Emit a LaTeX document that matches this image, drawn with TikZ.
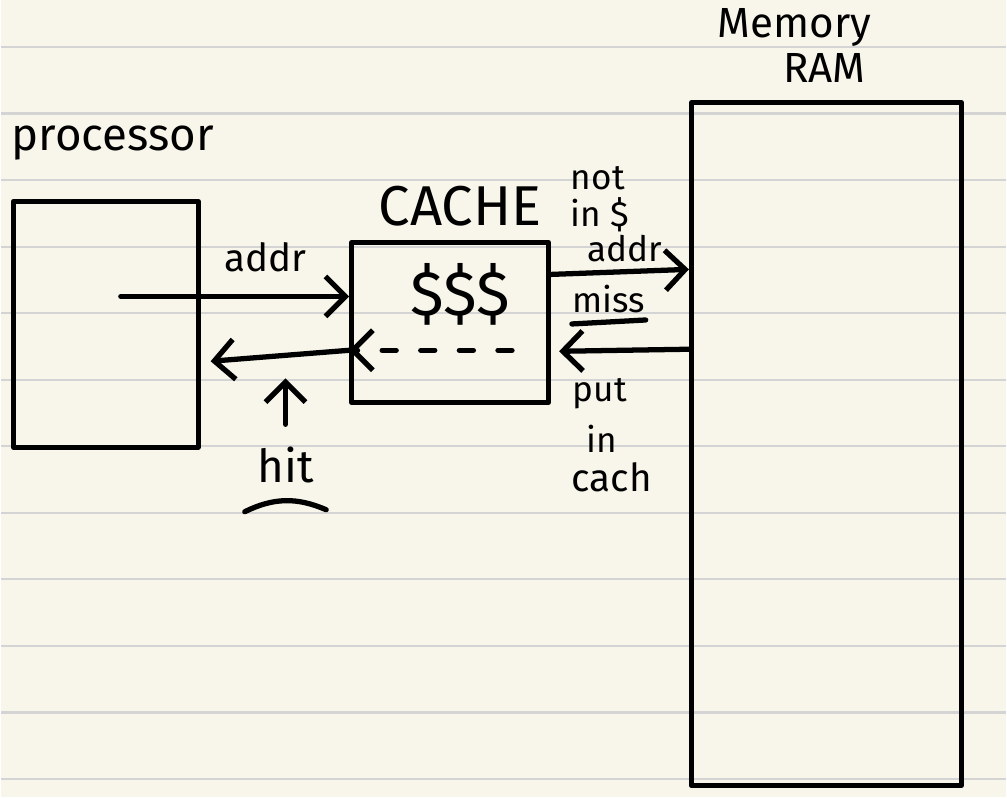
\documentclass[tikz,border=0pt]{standalone}
\usepackage{fontspec}
\setmainfont{Fira Sans}
\usepackage{tikz}
\usetikzlibrary{arrows.meta}
\definecolor{paper}{HTML}{F8F6EA}
\definecolor{ruling}{HTML}{D4D4D4}
\tikzset{
    ink/.style = {line width = 1.5pt, line cap = round, line join = round},
    arr/.style = {ink, -{Straight Barb[length = 2mm, width = 4mm]}},
    box/.style = {ink, draw, rectangle, inner sep = 0pt},
    note/.style = {font = \fontsize{13}{13}\selectfont, inner sep = 0pt},
    small/.style = {font = \fontsize{10}{10}\selectfont, inner sep = 0pt}
}
\begin{document}
\begin{tikzpicture}[x = 0.01cm, y = -0.01cm]
    \fill [paper] (0, 0) rectangle (1007, 799);
    \foreach \k in {0, ..., 11}
        \draw [ruling, line width = 0.6pt] (0, 47 + 66.7*\k) -- (1007, 47 + 66.7*\k);
    \node [box, minimum width = 1.85cm, minimum height = 2.46cm] (proc) at (105, 325) {};
    \node [box, minimum width = 1.97cm, minimum height = 1.6cm] (cache) at (450, 323) {};
    \node [box, minimum width = 2.7cm, minimum height = 6.84cm] (mem) at (827, 445) {};
    \node [note] (proclabel) at (112, 143) {processor};
    \node [note, font = \fontsize{16}{16}\selectfont] (cachelabel) at (460, 207) {CACHE};
    \node [note, font = \fontsize{18}{18}\selectfont] (money) at (460, 295) {\$\$\$};
    \node [note, font = \fontsize{12}{12}\selectfont] (memlabel) at (795, 28) {Memory};
    \node [note, font = \fontsize{12}{12}\selectfont] (ramlabel) at (825, 68) {RAM};
    \coordinate (addrfrom) at (120, 297);
    \draw [arr] (addrfrom) -- (cache.west |- addrfrom);
    \node [note, font = \fontsize{11}{11}\selectfont] (addr) at (265, 258) {addr};
    \coordinate (hitfrom) at (512, 351);
    \coordinate (hitto) at (210, 362);
    \draw [arr, dash pattern = on 4pt off 7pt] (hitfrom) -- (cache.west |- hitfrom);
    \draw [arr] (cache.west |- hitfrom) -- (hitto);
    \node [note] (hit) at (285, 466) {hit};
    \draw [arr] ([yshift = 0.22cm] hit.north) -- ++(0, -46);
    \draw [ink] ([xshift = -0.12cm, yshift = -0.28cm] hit.south west) to [bend left = 25] ([xshift = 0.12cm, yshift = -0.26cm] hit.south east);
    \draw [arr] ([yshift = 0.48cm] cache.east) -- ([yshift = 1.75cm] mem.west);
    \node [small] (notlabel) at (598, 179) {not};
    \node [small] (inlabel) at (600, 215) {in \$};
    \node [small] (addr2) at (625, 249) {addr};
    \node [small] (miss) at (609, 300) {miss};
    \draw [ink] ([yshift = -0.1cm] miss.south west) -- ([yshift = -0.06cm] miss.south east);
    \draw [arr] ([yshift = 0.95cm] mem.west) -- ([xshift = 0.08cm, yshift = -0.29cm] cache.east);
    \node [small] (putlabel) at (600, 395) {put};
    \node [small] (in2) at (602, 440) {in};
    \node [small, font = \fontsize{11}{11}\selectfont] (cachlabel) at (612, 478) {cach};
\end{tikzpicture}
\end{document}
